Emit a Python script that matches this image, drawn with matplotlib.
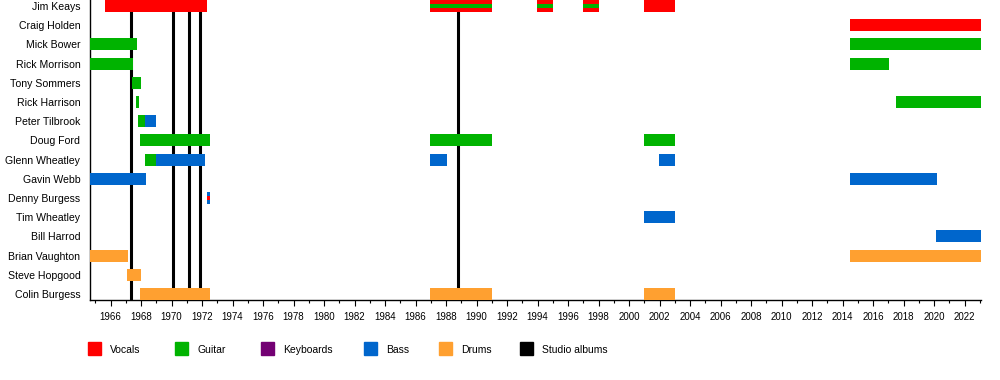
import matplotlib.pyplot as plt
from matplotlib.patches import Rectangle
from matplotlib.ticker import MultipleLocator

plt.rcParams['font.family'] = ['Liberation Sans', 'DejaVu Sans']

members = ['Jim Keays', 'Craig Holden', 'Mick Bower', 'Rick Morrison', 'Tony Sommers',
           'Rick Harrison', 'Peter Tilbrook', 'Doug Ford', 'Glenn Wheatley', 'Gavin Webb',
           'Denny Burgess', 'Tim Wheatley', 'Bill Harrod', 'Brian Vaughton', 'Steve Hopgood',
           'Colin Burgess']

roles = ['Vocals', 'Guitar', 'Keyboards', 'Bass', 'Drums', 'Studio albums']
role_colors = {'Vocals': '#ff0000', 'Guitar': '#00b300', 'Keyboards': '#730073',
               'Bass': '#0066cc', 'Drums': '#ffa030', 'Studio albums': '#000000'}

# member, start, end, main role, second role (stripe)
stints = [
    ('Jim Keays', 1965.63, 1972.31, 'Vocals', None),
    ('Jim Keays', 1986.95, 1991.0, 'Vocals', 'Guitar'),
    ('Jim Keays', 1993.96, 1995.0, 'Vocals', 'Guitar'),
    ('Jim Keays', 1997.0, 1998.0, 'Vocals', 'Guitar'),
    ('Jim Keays', 2000.97, 2003.0, 'Vocals', None),
    ('Craig Holden', 2014.5, 2023.07, 'Vocals', None),
    ('Mick Bower', 1964.65, 1967.72, 'Guitar', None),
    ('Mick Bower', 2014.5, 2023.07, 'Guitar', None),
    ('Rick Morrison', 1964.65, 1967.46, 'Guitar', None),
    ('Rick Morrison', 2014.5, 2017.04, 'Guitar', None),
    ('Tony Sommers', 1967.4, 1968.0, 'Guitar', None),
    ('Rick Harrison', 1967.65, 1967.85, 'Guitar', None),
    ('Rick Harrison', 2017.5, 2023.07, 'Guitar', None),
    ('Peter Tilbrook', 1967.8, 1968.25, 'Guitar', None),
    ('Peter Tilbrook', 1968.25, 1968.97, 'Bass', None),
    ('Doug Ford', 1967.92, 1972.5, 'Guitar', None),
    ('Doug Ford', 1986.95, 1991.0, 'Guitar', None),
    ('Doug Ford', 2000.97, 2003.0, 'Guitar', None),
    ('Glenn Wheatley', 1968.25, 1968.97, 'Guitar', None),
    ('Glenn Wheatley', 1968.97, 1972.2, 'Bass', None),
    ('Glenn Wheatley', 1986.95, 1988.05, 'Bass', None),
    ('Glenn Wheatley', 2001.95, 2003.0, 'Bass', None),
    ('Gavin Webb', 1964.65, 1968.3, 'Bass', None),
    ('Gavin Webb', 2014.5, 2020.2, 'Bass', None),
    ('Denny Burgess', 1972.3, 1972.5, 'Bass', 'Vocals'),
    ('Tim Wheatley', 2000.97, 2003.0, 'Bass', None),
    ('Bill Harrod', 2020.15, 2023.07, 'Bass', None),
    ('Brian Vaughton', 1964.65, 1967.15, 'Drums', None),
    ('Brian Vaughton', 2014.5, 2023.07, 'Drums', None),
    ('Steve Hopgood', 1967.1, 1968.0, 'Drums', None),
    ('Colin Burgess', 1967.92, 1972.5, 'Drums', None),
    ('Colin Burgess', 1986.95, 1991.0, 'Drums', None),
    ('Colin Burgess', 2000.97, 2003.0, 'Drums', None),
]

album_dates = [1967.33, 1970.07, 1971.15, 1971.88, 1988.8]

fig = plt.figure(figsize=(10, 3.8), dpi=100)
ax = fig.add_axes([0.09, 1 - 300 / 380, 0.891, 300 / 380])

bar_h = 0.625
for name, start, end, role, stripe in stints:
    row = members.index(name)
    ax.barh(row, end - start, left=start, height=bar_h, color=role_colors[role], zorder=3)
    if stripe:
        ax.barh(row, end - start, left=start, height=bar_h / 3, color=role_colors[stripe], zorder=4)

# studio albums sit behind the bars
for d in album_dates:
    ax.axvline(d, color='black', lw=2.2, zorder=2)

ax.set_xlim(1964.65, 2023.07)
ax.set_ylim(len(members) - 1 + bar_h / 2, -bar_h / 2)
ax.set_yticks(range(len(members)))
ax.set_yticklabels(members, fontsize=7.6)
ax.tick_params(axis='y', length=0, pad=7)

ax.xaxis.set_minor_locator(MultipleLocator(1))
ax.set_xticks(range(1966, 2023, 2))
ax.set_xticklabels([str(y) for y in range(1966, 2023, 2)], fontsize=7)
ax.tick_params(axis='x', which='major', length=4, width=0.8, pad=5)
ax.tick_params(axis='x', which='minor', length=2.5, width=0.8)

for s in ['top', 'right']:
    ax.spines[s].set_visible(False)
for s in ['left', 'bottom']:
    ax.spines[s].set_linewidth(1)

# legend along the bottom
legend_x = [88, 175, 261, 364, 439, 520]
for role, x in zip(roles, legend_x):
    fig.add_artist(Rectangle((x / 1000, 1 - 355 / 380), 13 / 1000, 13 / 380,
                             transform=fig.transFigure, color=role_colors[role]))
    fig.text((x + 22) / 1000, 1 - 350 / 380, role, fontsize=7.5, va='center', ha='left')

fig.savefig('out.png', dpi=100)
